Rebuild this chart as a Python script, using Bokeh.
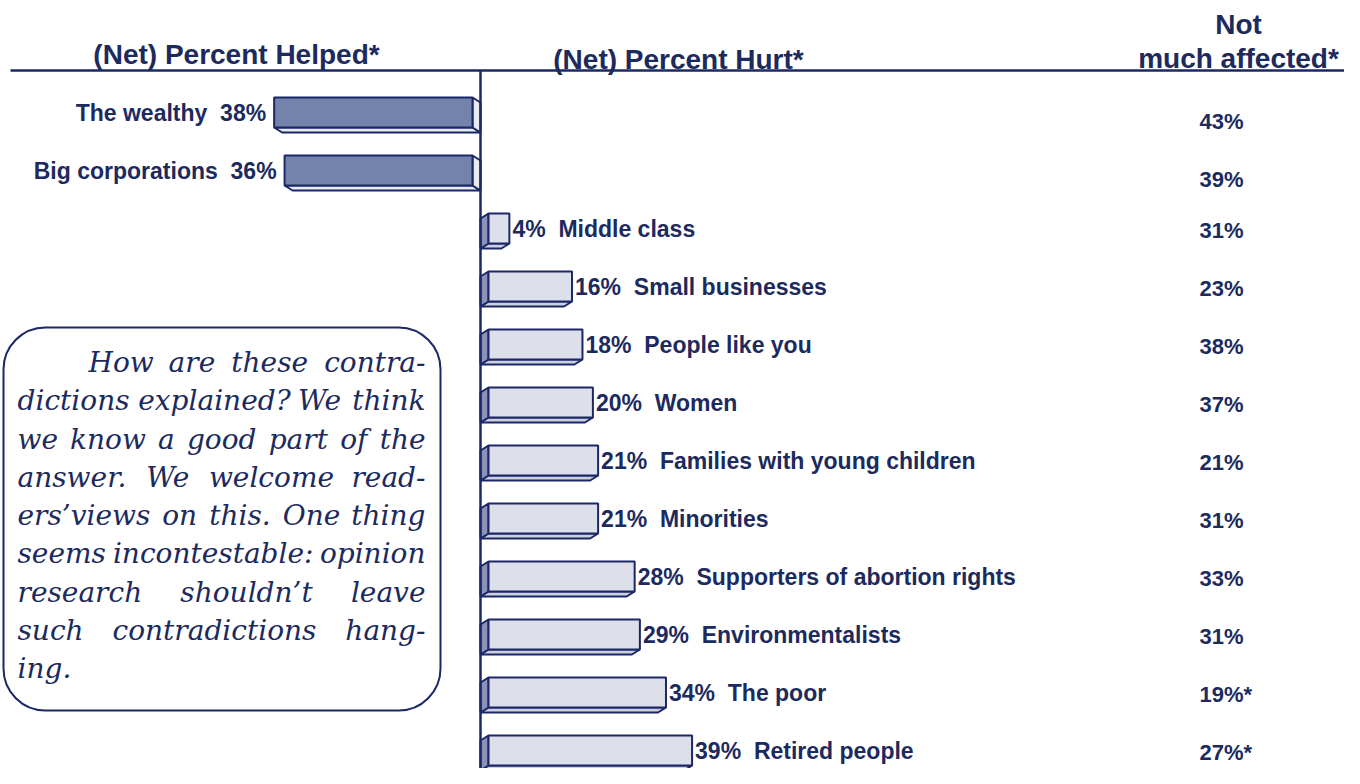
from bokeh.plotting import figure
from bokeh.models import Range1d, BoxAnnotation, Label
from bokeh.core.properties import value
from bokeh.embed import file_html
from bokeh.resources import INLINE

# ---------------- data ----------------
categories = ["The wealthy", "Big corporations", "Middle class", "Small businesses",
              "People like you", "Women", "Families with young children", "Minorities",
              "Supporters of abortion rights", "Environmentalists", "The poor", "Retired people"]
helped = [38, 36, 0, 0, 0, 0, 0, 0, 0, 0, 0, 0]
hurt = [0, 0, 4, 16, 18, 20, 21, 21, 28, 29, 34, 39]
not_affected = [43, 39, 31, 23, 38, 37, 21, 31, 33, 31, 19, 27]
not_affected_star = [False] * 10 + [True, True]

header_helped = "(Net) Percent Helped*"
header_hurt = "(Net) Percent Hurt*"
header_not = ["Not", "much affected*"]
box_lines = ["How are these contra-",
             "dictions explained? We think",
             "we know a good part of the",
             "answer. We welcome read-",
             "ers\u2019views on this. One thing",
             "seems incontestable: opinion",
             "research shouldn\u2019t leave",
             "such contradictions hang-",
             "ing."]

# ---------------- styling ----------------
NAVY = "#1b2766"
TEXT = "#1c2a5e"
HELP_FILL = "#7383ab"
HELP_SIDE = "#e9ebf2"
HURT_FILL = "#dde0ea"
HURT_SIDE = "#8a93b5"
HURT_BOTTOM = "#cdd1de"
SANS = "Liberation Sans"
SERIF = "DejaVu Serif"

W, H = 1344, 768
PX = 5.22      # pixels per percent
ROW = 58.0     # pixels per row


def X(px):
    return (px - 480) / PX


def Y(py):
    return (py - 112) / ROW


p = figure(width=W, height=H, output_backend="svg", toolbar_location=None,
           x_range=Range1d(X(0), X(W)), y_range=Range1d(Y(H), Y(0)),
           min_border=0, outline_line_color=None, background_fill_color="white")
p.xaxis.visible = False
p.yaxis.visible = False
p.xgrid.visible = False
p.ygrid.visible = False

hh = 15 / ROW      # half bar height
d = 8 / PX         # depth x
dy = 5 / ROW       # depth y

# helped bars
hf_l, hf_r, hf_t, hf_b = [], [], [], []
hs_xs, hs_ys = [], []
hb_xs, hb_ys = [], []
for i, v in enumerate(helped):
    if v <= 0:
        continue
    c = i
    hf_l.append(-(v + d)); hf_r.append(-d); hf_t.append(c - hh); hf_b.append(c + hh)
    hs_xs.append([-d, 0, 0, -d]); hs_ys.append([c - hh, c - hh + dy, c + hh + dy, c + hh])
    hb_xs.append([-(v + d), -d, 0, -v]); hb_ys.append([c + hh, c + hh, c + hh + dy, c + hh + dy])

p.patches(hb_xs, hb_ys, fill_color=HELP_SIDE, line_color=NAVY, line_width=2)
p.patches(hs_xs, hs_ys, fill_color=HELP_SIDE, line_color=NAVY, line_width=2)
p.quad(left=hf_l, right=hf_r, top=hf_t, bottom=hf_b, fill_color=HELP_FILL,
       line_color=NAVY, line_width=2)

# hurt bars
uf_l, uf_r, uf_t, uf_b = [], [], [], []
us_xs, us_ys = [], []
ub_xs, ub_ys = [], []
for i, v in enumerate(hurt):
    if v <= 0:
        continue
    c = i
    uf_l.append(d); uf_r.append(d + v); uf_t.append(c - hh); uf_b.append(c + hh)
    us_xs.append([d, 0, 0, d]); us_ys.append([c - hh, c - hh + dy, c + hh + dy, c + hh])
    ub_xs.append([d, d + v, v, 0]); ub_ys.append([c + hh, c + hh, c + hh + dy, c + hh + dy])

p.patches(ub_xs, ub_ys, fill_color=HURT_BOTTOM, line_color=NAVY, line_width=2)
p.patches(us_xs, us_ys, fill_color=HURT_SIDE, line_color=NAVY, line_width=2)
p.quad(left=uf_l, right=uf_r, top=uf_t, bottom=uf_b, fill_color=HURT_FILL,
       line_color=NAVY, line_width=2)

# axis lines
p.segment(x0=[X(10)], x1=[X(1355)], y0=[Y(70)], y1=[Y(70)], line_color=NAVY, line_width=2.5)
p.segment(x0=[0], x1=[0], y0=[Y(70)], y1=[Y(800)], line_color=NAVY, line_width=2.5)

# bar labels
lx, ly, lt = [], [], []
for i, v in enumerate(helped):
    if v > 0:
        lx.append(-(v + d) - 8 / PX); ly.append(i); lt.append(f"{categories[i]}\u00a0 {v}%")
p.text(lx, ly, text=lt, text_align="right", text_baseline="middle",
       text_font=value(SANS), text_font_style="bold", text_font_size="23px", text_color=TEXT)

rx, ry, rt = [], [], []
for i, v in enumerate(hurt):
    if v > 0:
        rx.append(d + v + 3 / PX); ry.append(i); rt.append(f"{v}%\u00a0 {categories[i]}")
p.text(rx, ry, text=rt, text_align="left", text_baseline="middle",
       text_font=value(SANS), text_font_style="bold", text_font_size="23px", text_color=TEXT)

# not much affected column
nx, ny, nt = [], [], []
for i, v in enumerate(not_affected):
    nx.append(X(1199))
    ny.append(i + (9 / ROW if helped[i] > 0 else 2 / ROW))
    nt.append(f"{v}%" + ("*" if not_affected_star[i] else ""))
p.text(nx, ny, text=nt, text_align="left", text_baseline="middle",
       text_font=value(SANS), text_font_style="bold", text_font_size="22px", text_color=TEXT)


# headers
def hdr(txt, cx, cy):
    p.add_layout(Label(x=X(cx), y=Y(cy), text=txt, text_align="center",
                       text_baseline="middle", text_font=SANS, text_font_style="bold",
                       text_font_size="28px", text_color=TEXT))


hdr(header_helped, 236, 54)
hdr(header_hurt, 678, 59)
hdr(header_not[0], 1238, 24)
hdr(header_not[1], 1238, 58)

# commentary box
p.add_layout(BoxAnnotation(left=X(3), right=X(440), top=Y(327), bottom=Y(710),
                           fill_alpha=0, line_color=NAVY, line_alpha=1.0, line_width=2,
                           border_radius=42))

# justified italic text (approximate DejaVu Serif glyph advances, in em)
CW = {'a': .596, 'b': .640, 'c': .560, 'd': .640, 'e': .592, 'f': .370, 'g': .640,
      'h': .644, 'i': .320, 'k': .608, 'l': .320, 'm': .970, 'n': .644, 'o': .602,
      'p': .640, 'r': .478, 's': .513, 't': .402, 'u': .644, 'v': .565, 'w': .848,
      'x': .565, 'y': .565, 'H': .838, 'W': 1.037, 'O': .785, '?': .482, ':': .337,
      '.': .318, '-': .338, '\u2019': .318}
FS = 28
wx, wy, wt = [], [], []
for k, line in enumerate(box_lines):
    left = 88 if k == 0 else 17
    right = 425
    base = 362 + 38.25 * k
    words = line.split(" ")
    widths = [sum(CW.get(ch, .6) for ch in w) * FS for w in words]
    if k == len(box_lines) - 1 or len(words) == 1:
        gap = 0.318 * FS
    else:
        gap = max(3.0, (right - left - sum(widths)) / (len(words) - 1))
    xpos = left
    for w, wd in zip(words, widths):
        wx.append(X(xpos)); wy.append(Y(base)); wt.append(w)
        xpos += wd + gap
p.text(wx, wy, text=wt, text_align="left", text_baseline="alphabetic",
       text_font=value(SERIF), text_font_style="italic", text_font_size=f"{FS}px",
       text_color=TEXT)

open("out.html", "w").write(file_html(p, INLINE))
